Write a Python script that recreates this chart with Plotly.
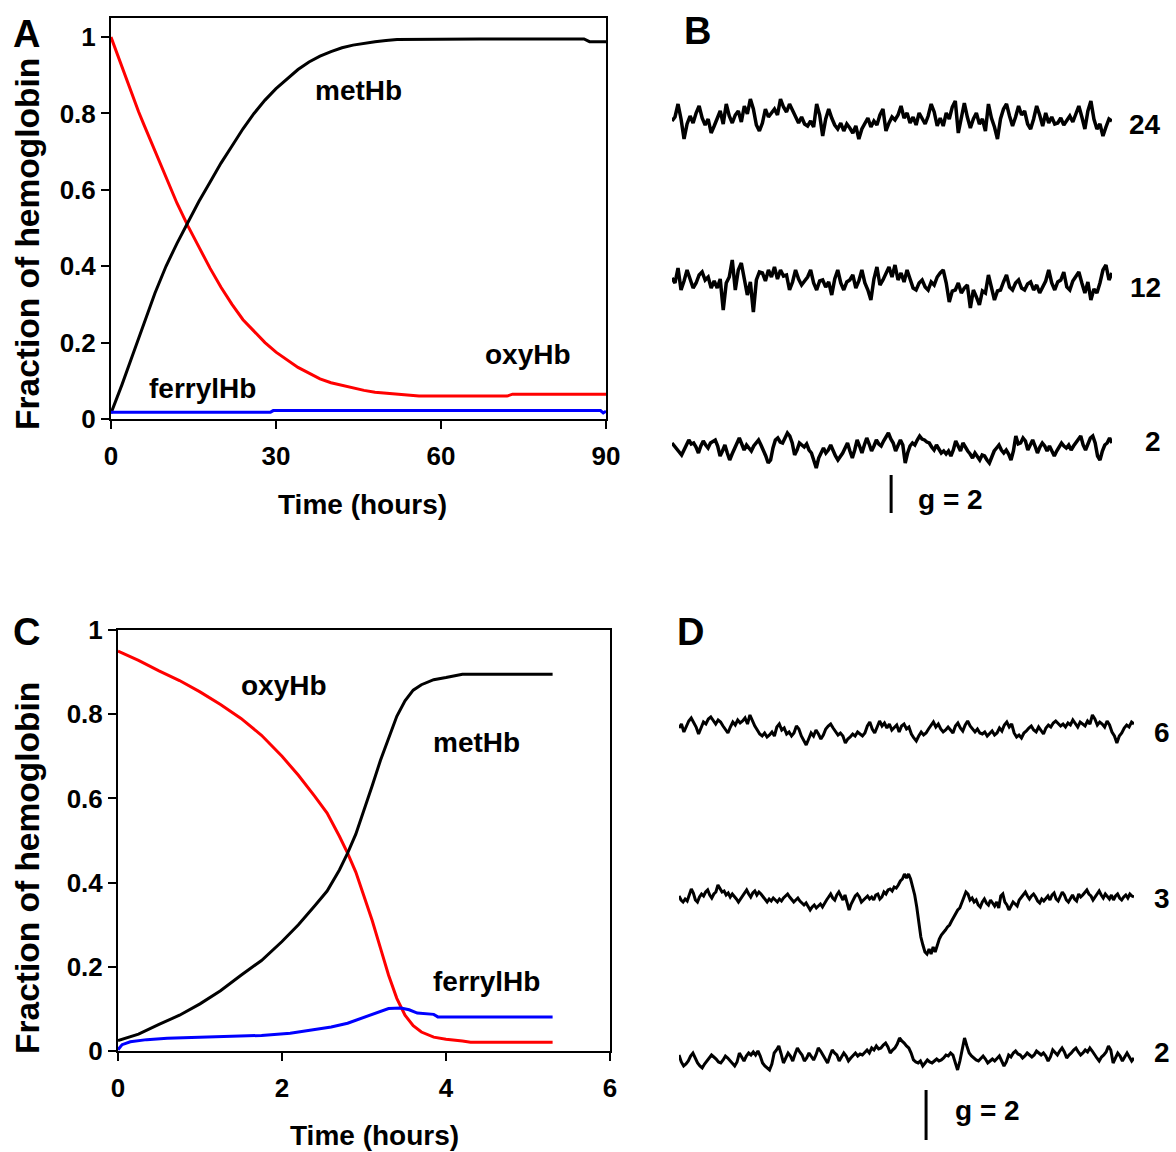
import numpy as np
import plotly.graph_objects as go

W, H = 1176, 1152
FONT = "Liberation Sans, Arial, sans-serif"

# ---------------- Panel A data (time in hours, fraction) ----------------
A_met_t = [0, 1, 2, 4, 6, 8, 10, 12, 14, 16, 18, 20, 22, 24, 26, 28, 30,
           32, 34, 36, 38, 40, 42, 44, 46, 48, 50, 52, 67, 75, 86, 87, 90]
A_met_y = [0.015, 0.05, 0.09, 0.17, 0.25, 0.33, 0.40, 0.46, 0.515, 0.57, 0.62, 0.67, 0.715,
           0.76, 0.80, 0.835, 0.865, 0.89, 0.915, 0.935, 0.95, 0.962, 0.972, 0.979, 0.984,
           0.988, 0.991, 0.994, 0.995, 0.995, 0.995, 0.988, 0.988]

A_oxy_t = [0, 1, 2, 3, 4, 5, 6, 7, 8, 9, 10, 11, 12, 13, 14, 16, 18, 20, 22, 24, 26, 28, 30,
           32, 34, 36, 38, 40, 42, 44, 46, 48, 50, 54, 56, 72, 73, 90]
A_oxy_y = [1.0, 0.96, 0.925, 0.885, 0.845, 0.805, 0.77, 0.735, 0.70, 0.665, 0.63, 0.60, 0.565,
           0.535, 0.505, 0.45, 0.395, 0.345, 0.30, 0.26, 0.23, 0.20, 0.175, 0.155, 0.135, 0.12,
           0.105, 0.095, 0.088, 0.082, 0.075, 0.07, 0.067, 0.062, 0.06, 0.06, 0.065, 0.065]

A_fer_t = [0, 29, 29.5, 89, 89.5, 90]
A_fer_y = [0.018, 0.018, 0.022, 0.022, 0.016, 0.02]

# ---------------- Panel C data ----------------
C_oxy_t = [0, 0.25, 0.5, 0.75, 1.0, 1.25, 1.5, 1.75, 2.0, 2.2, 2.4, 2.55, 2.7, 2.8, 2.9, 3.0,
           3.1, 3.2, 3.3, 3.4, 3.5, 3.6, 3.7, 3.85, 4.0, 4.2, 4.3, 5.3]
C_oxy_y = [0.95, 0.928, 0.903, 0.88, 0.853, 0.823, 0.79, 0.75, 0.70, 0.655, 0.605, 0.565, 0.51,
           0.47, 0.425, 0.37, 0.31, 0.245, 0.18, 0.125, 0.085, 0.06, 0.045, 0.033, 0.028, 0.024,
           0.021, 0.021]

C_met_t = [0, 0.25, 0.5, 0.75, 1.0, 1.25, 1.5, 1.75, 2.0, 2.2, 2.4, 2.55, 2.7, 2.8, 2.9, 3.0,
           3.1, 3.2, 3.3, 3.4, 3.5, 3.6, 3.7, 3.85, 4.0, 4.2, 5.3]
C_met_y = [0.025, 0.04, 0.063, 0.085, 0.112, 0.143, 0.18, 0.215, 0.26, 0.30, 0.345, 0.38, 0.43,
           0.47, 0.515, 0.57, 0.63, 0.69, 0.745, 0.795, 0.832, 0.857, 0.87, 0.882, 0.887, 0.895,
           0.895]

C_fer_t = [0, 0.05, 0.15, 0.35, 0.6, 1.25, 1.75, 2.1, 2.4, 2.6, 2.8, 3.0, 3.15, 3.3, 3.45, 3.55,
           3.65, 3.85, 3.9, 5.3]
C_fer_y = [0.003, 0.015, 0.022, 0.027, 0.03, 0.034, 0.037, 0.042, 0.05, 0.057, 0.066, 0.08,
           0.092, 0.101, 0.102, 0.098, 0.09, 0.087, 0.081, 0.081]

# ---------------- EPR spectra (relative signal) ----------------
B_labels = ["24", "12", "2"]
B_24 = [0, 4, 17, 2, -18, -3, 5, -2, 8, 15, 3, -4, 2, -12, -5,
        3, 10, -3, 17, 5, -2, 6, 10, -1, 15, 7, 22, 12, -4, -10,
        -2, 12, 4, 8, 12, 6, 22, 14, 9, 17, 10, 3, -2, 4, -3,
        -5, 0, -6, 17, 6, -15, 2, 12, 3, -4, -8, -2, -10, -3, -7,
        -12, -5, -18, -8, -3, 3, -6, 0, -4, 6, 12, -10, -2, 4, 1,
        6, 15, 3, 8, -2, 4, -4, 8, 2, -3, 5, 17, 9, -5, 3,
        -5, 8, 2, 14, 20, -12, 5, 18, 4, -7, 2, 8, -3, 2, -10,
        17, 3, -6, -18, 2, 12, 17, 5, -5, 4, 15, 6, 10, -3, -8,
        2, 15, 6, -5, 8, -2, 4, -3, -2, 3, -4, 1, 5, -1, 6,
        15, 4, -8, 10, 20, 2, -8, -3, -15, -6, 2, 0]
B_12 = [7, 2, 17, -5, 4, 15, 6, -3, 2, 10, 13, 5, 8, -3, 4,
        -3, 6, -25, 2, 8, 25, -5, 15, 22, 6, -10, 3, -27, 5, 13,
        12, 4, 15, 8, 18, 6, 15, 9, 10, -5, 3, 15, 6, 0, 4,
        8, 15, 2, -5, 4, 5, -2, 3, -10, 6, 15, 2, -5, 3, 5,
        10, -3, 4, 15, 2, -5, -15, 6, 18, 0, 5, 12, 18, 8, 20,
        5, 12, 3, 15, 6, -3, -5, 2, 5, -2, -5, 3, 0, 8, 12,
        15, 2, -17, -6, -5, 2, -8, -3, 0, -23, -5, -12, -20, -6, -8,
        10, -4, -15, -6, -5, 3, 10, -2, -5, 2, 5, -3, -5, 1, 3,
        -5, 0, -8, -2, 4, 15, 2, -5, 3, 5, 13, -2, -5, 4, 8,
        13, 2, -8, 3, -15, -4, -8, 2, 15, 20, 5, 12]
B_2 = [5, 2, 0, -4, -7, -2, 3, 8, 4, 5, 1, -5, 2, 7, 3, 0, 5, 7, 8, 2,
       -8, -3, 3, -5, -12, -6, 0, 6, 10, 4, -2, 3, 0, -3, 2, 5, 8, 3, -2, -8,
       -15, -12, 0, 8, 10, 6, 5, 10, 15, 12, 5, -7, -2, 5, 3, 1, 4, -2, -5, -12,
       -20, -10, -4, 0, -5, -2, 3, -3, -8, -12, -9, -5, 0, 5, -3, -10, -2, 8, 2, -5,
       3, 10, 4, -3, 2, 8, 4, 2, 7, 12, 15, 9, 5, -3, 2, 8, 3, -15, -5, 2,
       5, 3, 8, 12, 9, 8, 6, 5, 1, -2, 3, -1, -5, -3, -6, -3, -8, -2, 7, 2,
       -3, 5, 0, -3, -6, -10, -5, -8, -12, -7, -8, -12, -15, -9, -3, 0, 3, -2, -5, -2,
       -6, -12, -3, 12, 4, 5, 10, 7, -2, 3, 8, 2, -5, 1, 5, 2, -3, 2, -4, -8,
       -3, 1, 5, 2, 0, 3, -2, 2, 5, 9, 12, 3, -2, 4, 10, 12, 5, -8, -12, -3,
       3, 5, 10, 5]

D_labels = ["6", "3", "2"]
D_6 = [2, 6, -2, 4, 9, 12, 7, 3, -4, 2, 8, 6, 11, 13, 9, 6, 10, 8, 4, 1,
       -3, 3, 8, 5, 10, 7, 9, 12, 6, 15, 9, 4, 0, -4, -6, -3, -7, -5, -2, -6,
       3, 6, 0, 2, -4, -2, -6, -3, 4, 1, -6, -10, -15, -9, -3, -6, 0, -4, -9, -5,
       1, 4, 6, 2, -2, -5, -3, -6, -13, -9, -7, -4, -6, -2, -4, -6, -3, 4, 8, 1,
       -3, 3, 9, 4, 7, 2, 6, 0, 3, 5, -2, 4, 6, 1, 3, -4, -8, -11, -6, -2,
       -5, -3, 1, 4, 8, 3, 6, 1, -2, 0, 3, 0, -3, 4, 7, 2, -1, 5, 9, 4,
       1, -2, 1, -3, -4, -2, -6, -3, -1, -5, -3, 2, -1, 5, 8, 3, 6, -3, -7, -5,
       -8, -3, -1, 2, 4, 0, -2, 3, 0, -4, 2, 5, 3, 7, 9, 6, 4, 6, 3, 7,
       5, 10, 6, 3, 8, 6, 4, 9, 6, 15, 11, 5, 8, 6, 3, 9, 5, -2, -6, -13,
       -6, -3, 2, 5, 3, 8, 6]
D_3 = [1, -3, -5, -2, -4, 2, 8, 4, -3, -5, 0, 3, 1, 5, 7, 2, -1, 3, 5, 12,
       8, 5, 6, 2, 4, 0, 3, 1, -2, -5, -2, 2, 5, 7, 3, 0, 4, 6, 2, 5,
       3, 0, -3, -5, -2, -4, -1, -3, -5, -2, -4, -1, 1, 3, 0, -2, -5, -3, -1, -4,
       -6, -8, -6, -10, -13, -10, -8, -11, -9, -7, -10, -6, -3, 0, 3, -1, -3, 2, 5, 1,
       -3, 2, -5, -13, -7, -3, 1, 3, 0, -5, -3, -1, 1, -2, 0, -3, 2, 3, -2, 0,
       5, 3, 7, 8, 6, 10, 9, 12, 16, 18, 23, 19, 23, 18, 10, 2, -10, -25, -40, -48,
       -55, -57, -52, -57, -50, -55, -48, -42, -38, -36, -33, -30, -28, -24, -20, -16, -13, -11, -5, 0,
       5, 3, -3, -1, -5, -3, -8, -10, -5, -2, -6, -8, -3, -6, -9, -5, -11, 1, 3, -5,
       -8, -13, -9, -5, -7, -9, -3, 0, 3, 5, 1, -2, 1, 3, 0, -4, -6, -2, -4, -1,
       1, -3, 2, 4, -2, -4, 1, 5, 2, -3, -5, -1, 2, -2, -4, 3, 0, 2, 5, 7,
       3, 1, -3, 0, 4, 6, 2, -1, 3, 0, -2, 2, -3, 1, 3, -1, -3, 0, 2, -1,
       3, 1, 0]
D_2 = [3, -4, -8, -6, -3, 2, 5, 0, -5, -8, -10, -6, -3, 0, 3, 1, -1, -4, -5, -2,
       2, 0, -3, -6, -8, -4, 5, 1, -3, 2, 5, 3, 6, 3, 7, 2, -5, -8, -10, -12,
       -6, 5, 8, 12, 4, -5, 0, 5, 2, -3, 4, 10, 6, 3, -3, 0, 5, 2, -2, 3,
       10, 7, 3, -1, -5, 2, 8, 5, 3, -3, 1, 5, 2, -3, 0, 3, 5, 2, 4, 3,
       6, 8, 5, 10, 8, 12, 9, 10, 13, 15, 11, 5, 8, 10, 14, 20, 17, 15, 12, 10,
       5, -2, -4, -5, -3, -8, -5, -2, -4, -5, -3, -1, -3, -2, 0, 3, 2, 5, 3, -4,
       -12, -3, 8, 20, 12, 5, 2, 0, -2, -3, 0, 2, -1, -5, -3, -1, -3, 0, 2, -3,
       -8, -4, 3, 1, 5, 7, 4, 3, 0, 2, 5, 3, 1, 3, 7, 5, 3, 5, 2, -3,
       1, 8, 5, 3, 7, 10, 6, 0, 3, 5, 8, 10, 6, 3, 5, 8, 6, 10, 7, 3,
       0, -3, 1, 3, 6, 12, 8, -5, 0, 5, 2, -3, 1, 5, 1, -3, 0]

G2_FIELD_B = 0.498   # g = 2 position (fraction of field sweep)
G2_FIELD_D = 0.543


def px_x(p):
    return p / W


def px_y(p):
    return 1 - p / H


fig = go.Figure()

RED, BLACK, BLUE = "#ff0000", "#000000", "#0000ff"
LW = 3

# Panel A
fig.add_trace(go.Scatter(x=A_oxy_t, y=A_oxy_y, mode="lines", line=dict(color=RED, width=LW),
                         xaxis="x", yaxis="y"))
fig.add_trace(go.Scatter(x=A_met_t, y=A_met_y, mode="lines", line=dict(color=BLACK, width=LW),
                         xaxis="x", yaxis="y"))
fig.add_trace(go.Scatter(x=A_fer_t, y=A_fer_y, mode="lines", line=dict(color=BLUE, width=LW),
                         xaxis="x", yaxis="y"))

# Panel C
fig.add_trace(go.Scatter(x=C_oxy_t, y=C_oxy_y, mode="lines", line=dict(color=RED, width=LW),
                         xaxis="x2", yaxis="y2"))
fig.add_trace(go.Scatter(x=C_met_t, y=C_met_y, mode="lines", line=dict(color=BLACK, width=LW),
                         xaxis="x2", yaxis="y2"))
fig.add_trace(go.Scatter(x=C_fer_t, y=C_fer_y, mode="lines", line=dict(color=BLUE, width=LW),
                         xaxis="x2", yaxis="y2"))

# Panel B spectra (axis y units = pixels, offsets place each spectrum)
B_top, B_bot = 60, 530
B_centers = [121, 285, 448]
for vals, c in zip([B_24, B_12, B_2], B_centers):
    off = B_bot - c
    fig.add_trace(go.Scatter(x=np.linspace(0, 1, len(vals)), y=np.array(vals) + off,
                             mode="lines", line=dict(color=BLACK, width=3.5),
                             xaxis="x3", yaxis="y3"))

D_top, D_bot = 690, 1150
D_centers = [730, 897, 1058]
for vals, c in zip([D_6, D_3, D_2], D_centers):
    off = D_bot - c
    fig.add_trace(go.Scatter(x=np.linspace(0, 1, len(vals)), y=np.array(vals) + off,
                             mode="lines", line=dict(color=BLACK, width=3),
                             xaxis="x4", yaxis="y4"))

tickfont = dict(family=FONT, size=26, color="black", weight="bold")
axis_common = dict(showline=True, mirror=True, linecolor="black", linewidth=2,
                   ticks="outside", ticklen=8, tickwidth=2, tickcolor="black",
                   showgrid=False, zeroline=False, tickfont=tickfont, automargin=False)

fig.update_layout(
    template="none",
    width=W, height=H, autosize=False,
    margin=dict(l=0, r=0, t=0, b=0, pad=0, autoexpand=False),
    paper_bgcolor="white", plot_bgcolor="white", showlegend=False,
    font=dict(family=FONT, color="black"),
    xaxis=dict(domain=[px_x(111), px_x(606)], range=[0, 90], tickvals=[0, 30, 60, 90],
               anchor="y", ticklabelstandoff=5, **axis_common),
    yaxis=dict(domain=[px_y(419), px_y(18)], range=[0, 1.05],
               tickvals=[0, 0.2, 0.4, 0.6, 0.8, 1], anchor="x", **axis_common),
    xaxis2=dict(domain=[px_x(118), px_x(610)], range=[0, 6], tickvals=[0, 2, 4, 6],
                anchor="y2", ticklabelstandoff=5, **axis_common),
    yaxis2=dict(domain=[px_y(1051), px_y(630)], range=[0, 1],
                tickvals=[0, 0.2, 0.4, 0.6, 0.8, 1], anchor="x2", **axis_common),
    xaxis3=dict(domain=[px_x(672), px_x(1112)], range=[0, 1], visible=False, anchor="y3",
                automargin=False),
    yaxis3=dict(domain=[px_y(B_bot), px_y(B_top)], range=[0, B_bot - B_top], visible=False,
                anchor="x3", automargin=False),
    xaxis4=dict(domain=[px_x(679), px_x(1134)], range=[0, 1], visible=False, anchor="y4",
                automargin=False),
    yaxis4=dict(domain=[px_y(D_bot), px_y(D_top)], range=[0, D_bot - D_top], visible=False,
                anchor="x4", automargin=False),
)

# g = 2 markers
fig.add_shape(type="line", xref="x3", yref="y3", x0=G2_FIELD_B, x1=G2_FIELD_B,
              y0=B_bot - 513, y1=B_bot - 475, line=dict(color="black", width=3))
fig.add_shape(type="line", xref="x4", yref="y4", x0=G2_FIELD_D, x1=G2_FIELD_D,
              y0=D_bot - 1140, y1=D_bot - 1090, line=dict(color="black", width=3))


def ann(text, x, y, size, xanchor="center", angle=0):
    fig.add_annotation(text=text, x=px_x(x), y=px_y(y), xref="paper", yref="paper",
                       showarrow=False, xanchor=xanchor, yanchor="middle", textangle=angle,
                       font=dict(family=FONT, size=size, color="black", weight="bold"))


# panel letters
ann("A", 26, 34, 38)
ann("B", 697, 31, 38)
ann("C", 26, 632, 38)
ann("D", 690, 632, 38)

# axis titles
ann("Fraction of hemoglobin", 27, 244, 33.5, angle=-90)
ann("Fraction of hemoglobin", 27, 868, 33.5, angle=-90)
ann("Time (hours)", 362, 504, 28)
ann("Time (hours)", 374, 1135, 28)

# curve labels
ann("metHb", 358, 90, 28)
ann("oxyHb", 528, 354, 28)
ann("ferrylHb", 202, 388, 28)
ann("oxyHb", 284, 685, 28)
ann("metHb", 476, 742, 28)
ann("ferrylHb", 486, 981, 28)

# spectra labels
for lab, yy in zip(B_labels, [125, 287, 441]):
    ann(lab, 1163, yy, 28, xanchor="right")
for lab, yy in zip(D_labels, [732, 898, 1052]):
    ann(lab, 1172, yy, 28, xanchor="right")
ann("g = 2", 950, 499, 28)
ann("g = 2", 987, 1110, 28)

fig.write_html("out.html", config=dict(responsive=False, displayModeBar=False),
               post_script="document.body.style.margin='0';document.body.style.overflow='hidden';")
